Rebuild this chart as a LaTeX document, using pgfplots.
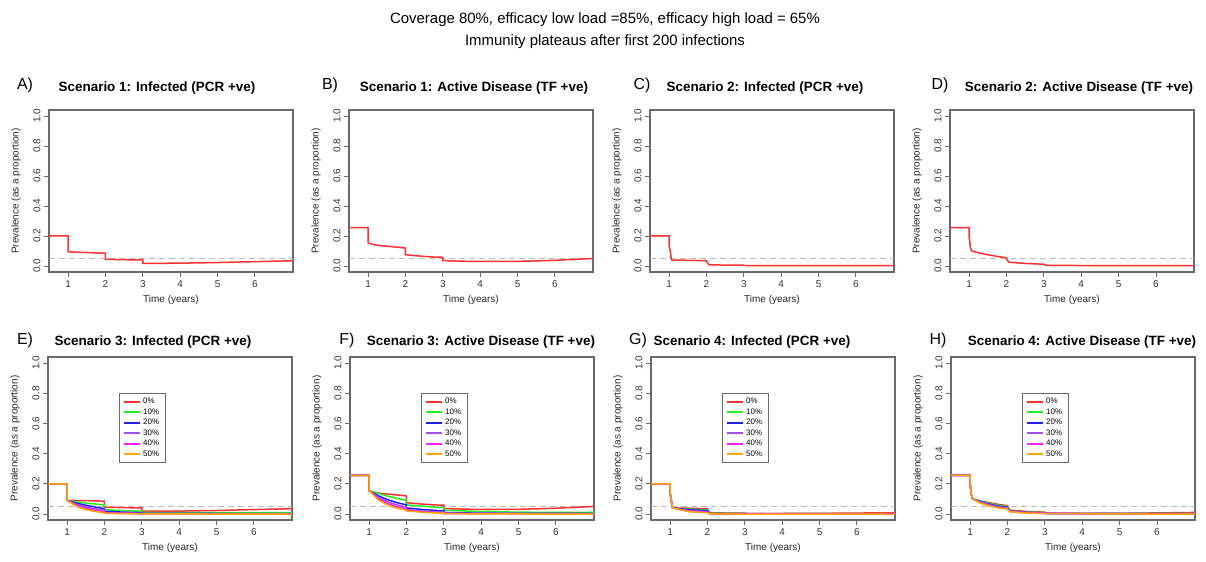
\documentclass[border=0pt]{standalone}
\usepackage{pgfplots}
\pgfplotsset{compat=1.18}
\usepackage{fontspec}
\setmainfont{Liberation Sans}

\definecolor{cRed}{HTML}{FF3030}
\definecolor{cGreen}{HTML}{22EE22}
\definecolor{cBlue}{HTML}{2020F0}
\definecolor{cPurple}{HTML}{A050F0}
\definecolor{cMag}{HTML}{FF20FF}
\definecolor{cOrg}{HTML}{FFA500}
\definecolor{boxc}{HTML}{6A6A6A}
\definecolor{dashc}{HTML}{BBBBBB}

\pgfplotsset{
 panel/.style={
  scale only axis, width=244bp, height=#1,
  xmin=0.49, xmax=7.02, ymin=-0.04, ymax=1.04,
  xtick={1,2,3,4,5,6}, xticklabels={1,2,3,4,5,6},
  ytick={0,0.2,0.4,0.6,0.8,1.0}, yticklabels={0.0,0.2,0.4,0.6,0.8,1.0},
  /pgf/number format/assume math mode=true,
  tick align=outside, major tick length=5bp,
  xtick pos=left, ytick pos=left,
  tick style={boxc, line width=0.8bp},
  axis line style={boxc, line width=1.2bp},
  ticklabel style={font=\fontsize{10}{11}\selectfont, text=black!80},
  yticklabel style={rotate=90, anchor=south},
  xlabel={Time (years)}, ylabel={Prevalence (as a proportion)},
  label style={font=\fontsize{10}{11}\selectfont, text=black!85},
  xlabel style={at={(axis description cs:0.5,-0.173)}, anchor=center},
  ylabel style={at={(axis description cs:-0.135,0.5)}, anchor=center},
  every axis plot/.append style={line width=1.5bp},
  legend style={at={(axis description cs:0.29,0.78)}, anchor=north west,
    font=\fontsize{8}{9}\selectfont, draw=boxc, line width=0.8bp,
    inner xsep=4bp, inner ysep=3bp, row sep=-0.6bp, cells={anchor=west}, fill=white},
  legend image code/.code={\draw[##1, line width=2bp] (0bp,0bp) -- (16bp,0bp);},
  anchor=south west,
 },
 refline/.style={forget plot, dashc, dash pattern=on 6bp off 4bp, line width=1.1bp},
}

\begin{document}
\begin{tikzpicture}
\useasboundingbox (0,0) rectangle (1206bp,562bp);

% main title
\node[font=\fontsize{15}{17}\selectfont] at (605bp,542bp) {Coverage 80\%, efficacy low load =85\%, efficacy high load = 65\%};
\node[font=\fontsize{15}{17}\selectfont] at (605bp,520bp) {Immunity plateaus after first 200 infections};

% panel labels and titles
\tikzset{plab/.style={font=\fontsize{16}{18}\selectfont}, ptit/.style={font=\fontsize{13.5}{15}\selectfont\bfseries}}
\node[plab] at (25bp,477bp) {A)};
\node[ptit] at (157bp,474bp) {Scenario 1: Infected (PCR +ve)};
\node[plab] at (330bp,477bp) {B)};
\node[ptit] at (474bp,474bp) {Scenario 1: Active Disease (TF +ve)};
\node[plab] at (642bp,477bp) {C)};
\node[ptit] at (765bp,474bp) {Scenario 2: Infected (PCR +ve)};
\node[plab] at (940bp,477bp) {D)};
\node[ptit] at (1079bp,474bp) {Scenario 2: Active Disease (TF +ve)};
\node[plab] at (25bp,222bp) {E)};
\node[ptit] at (153bp,220bp) {Scenario 3: Infected (PCR +ve)};
\node[plab] at (347bp,222bp) {F)};
\node[ptit] at (481bp,220bp) {Scenario 3: Active Disease (TF +ve)};
\node[plab] at (638bp,222bp) {G)};
\node[ptit] at (752bp,220bp) {Scenario 4: Infected (PCR +ve)};
\node[plab] at (938bp,222bp) {H)};
\node[ptit] at (1082bp,220bp) {Scenario 4: Active Disease (TF +ve)};

% ---------------- A
\begin{axis}[panel=162bp, at={(49bp,290bp)}]
\addplot[refline] coordinates {(0.49,0.05)(7.02,0.05)};
\addplot[cRed] coordinates {(0.49,0.2)(1,0.2)(1,0.095)(1.25,0.092)(1.5,0.09)(1.75,0.087)(2,0.085)(2,0.045)(2.5,0.042)(3,0.04)(3,0.018)(3.5,0.018)(4,0.019)(4.5,0.021)(5,0.023)(5.5,0.026)(6,0.029)(6.5,0.032)(7.02,0.035)};
\end{axis}

% ---------------- B
\begin{axis}[panel=162bp, at={(349bp,290bp)}]
\addplot[refline] coordinates {(0.49,0.05)(7.02,0.05)};
\addplot[cRed] coordinates {(0.49,0.255)(1,0.255)(1,0.155)(1.1,0.145)(1.25,0.138)(1.5,0.132)(1.75,0.126)(2,0.12)(2,0.075)(2.25,0.069)(2.5,0.064)(2.75,0.06)(3,0.058)(3,0.036)(3.5,0.032)(4,0.03)(4.5,0.03)(5,0.031)(5.5,0.034)(6,0.038)(6.5,0.044)(7.02,0.05)};
\end{axis}

% ---------------- C
\begin{axis}[panel=162bp, at={(650bp,290bp)}]
\addplot[refline] coordinates {(0.49,0.05)(7.02,0.05)};
\addplot[cRed] coordinates {(0.49,0.2)(1,0.2)(1,0.14)(1.03,0.1)(1.04,0.095)(1.05,0.06)(1.07,0.04)(1.5,0.038)(2,0.035)(2.02,0.025)(2.07,0.008)(2.5,0.006)(3,0.005)(3.05,0.002)(7.02,0.002)};
\end{axis}

% ---------------- D
\begin{axis}[panel=162bp, at={(950bp,290bp)}]
\addplot[refline] coordinates {(0.49,0.05)(7.02,0.05)};
\addplot[cRed] coordinates {(0.49,0.255)(1,0.255)(1,0.2)(1.02,0.16)(1.03,0.13)(1.07,0.1)(1.25,0.088)(1.5,0.075)(1.75,0.064)(2,0.055)(2.02,0.04)(2.07,0.025)(2.5,0.017)(3,0.012)(3.05,0.005)(4,0.003)(7.02,0.003)};
\end{axis}

% ---------------- E
\begin{axis}[panel=163bp, at={(48bp,42bp)}]
\addplot[refline] coordinates {(0.49,0.05)(7.02,0.05)};
\addplot[cRed] coordinates {(0.49,0.2)(1,0.2)(1,0.09)(1.25,0.089)(1.5,0.088)(1.75,0.087)(2,0.085)(2,0.045)(2.5,0.042)(3,0.04)(3,0.018)(3.5,0.018)(4,0.019)(4.5,0.021)(5,0.023)(5.5,0.026)(6,0.029)(6.5,0.032)(7.02,0.035)};
\addlegendentry{0\%}
\addplot[cGreen] coordinates {(0.49,0.2)(1,0.2)(1,0.09)(1.25,0.08)(1.5,0.072)(1.75,0.066)(2,0.06)(2,0.028)(2.5,0.022)(3,0.018)(3,0.01)(4,0.009)(5,0.009)(6,0.009)(7.02,0.009)};
\addlegendentry{10\%}
\addplot[cBlue] coordinates {(0.49,0.2)(1,0.2)(1,0.09)(1.25,0.072)(1.5,0.058)(1.75,0.046)(2,0.035)(2,0.018)(2.5,0.012)(3,0.009)(3,0.004)(7.02,0.002)};
\addlegendentry{20\%}
\addplot[cPurple] coordinates {(0.49,0.2)(1,0.2)(1,0.09)(1.25,0.065)(1.5,0.047)(1.75,0.034)(2,0.025)(2,0.01)(2.5,0.006)(3,0.004)(3,0.002)(7.02,0.001)};
\addlegendentry{30\%}
\addplot[cMag] coordinates {(0.49,0.2)(1,0.2)(1,0.09)(1.25,0.058)(1.5,0.038)(1.75,0.025)(2,0.016)(2,0.006)(3,0.002)(7.02,0)};
\addlegendentry{40\%}
\addplot[cOrg] coordinates {(0.49,0.2)(1,0.2)(1,0.09)(1.25,0.05)(1.5,0.028)(1.75,0.016)(2,0.009)(2,0.004)(3,0.001)(7.02,-0.002)};
\addlegendentry{50\%}
\end{axis}

% ---------------- F
\begin{axis}[panel=163bp, at={(350bp,42bp)}]
\addplot[refline] coordinates {(0.49,0.05)(7.02,0.05)};
\addplot[cRed] coordinates {(0.49,0.255)(1,0.255)(1,0.155)(1.1,0.145)(1.25,0.138)(1.5,0.132)(1.75,0.126)(2,0.12)(2,0.075)(2.25,0.069)(2.5,0.064)(2.75,0.06)(3,0.058)(3,0.036)(3.5,0.032)(4,0.03)(4.5,0.03)(5,0.031)(5.5,0.034)(6,0.038)(6.5,0.044)(7.02,0.05)};
\addlegendentry{0\%}
\addplot[cGreen] coordinates {(0.49,0.255)(1,0.255)(1,0.155)(1.25,0.135)(1.5,0.118)(1.75,0.103)(2,0.09)(2,0.06)(2.5,0.05)(3,0.042)(3,0.025)(4,0.016)(5,0.012)(6,0.01)(7.02,0.01)};
\addlegendentry{10\%}
\addplot[cBlue] coordinates {(0.49,0.255)(1,0.255)(1,0.155)(1.25,0.12)(1.5,0.094)(1.75,0.075)(2,0.06)(2,0.04)(2.5,0.028)(3,0.02)(3,0.01)(4,0.005)(7.02,0.003)};
\addlegendentry{20\%}
\addplot[cPurple] coordinates {(0.49,0.255)(1,0.255)(1,0.155)(1.25,0.11)(1.5,0.08)(1.75,0.06)(2,0.045)(2,0.03)(2.5,0.018)(3,0.012)(3,0.005)(7.02,0.001)};
\addlegendentry{30\%}
\addplot[cMag] coordinates {(0.49,0.255)(1,0.255)(1,0.155)(1.25,0.1)(1.5,0.068)(1.75,0.048)(2,0.035)(2,0.025)(2.5,0.013)(3,0.008)(3,0.003)(7.02,0)};
\addlegendentry{40\%}
\addplot[cOrg] coordinates {(0.49,0.255)(1,0.255)(1,0.155)(1.25,0.092)(1.5,0.058)(1.75,0.038)(2,0.025)(2,0.02)(2.5,0.01)(3,0.005)(3,0.002)(7.02,-0.002)};
\addlegendentry{50\%}
\end{axis}

% ---------------- G
\begin{axis}[panel=163bp, at={(651bp,42bp)}]
\addplot[refline] coordinates {(0.49,0.05)(7.02,0.05)};
\addplot[cRed] coordinates {(0.49,0.2)(1,0.2)(1,0.14)(1.03,0.095)(1.05,0.06)(1.07,0.04)(1.5,0.038)(2,0.035)(2.02,0.02)(2.07,0.008)(2.5,0.006)(3,0.005)(3.05,0.003)(4,0.003)(5,0.004)(6,0.006)(7.02,0.008)};
\addlegendentry{0\%}
\addplot[cGreen] coordinates {(0.49,0.2)(1,0.2)(1,0.14)(1.03,0.095)(1.05,0.06)(1.07,0.04)(1.5,0.032)(2,0.027)(2.07,0.005)(3,0.003)(3.05,0.001)(7.02,0.003)};
\addlegendentry{10\%}
\addplot[cBlue] coordinates {(0.49,0.2)(1,0.2)(1,0.14)(1.03,0.095)(1.05,0.06)(1.07,0.04)(1.5,0.028)(2,0.022)(2.07,0.003)(3,0.002)(7.02,0.001)};
\addlegendentry{20\%}
\addplot[cPurple] coordinates {(0.49,0.2)(1,0.2)(1,0.14)(1.03,0.095)(1.05,0.06)(1.07,0.04)(1.5,0.022)(2,0.016)(2.07,0.002)(7.02,0)};
\addlegendentry{30\%}
\addplot[cMag] coordinates {(0.49,0.2)(1,0.2)(1,0.14)(1.03,0.095)(1.05,0.06)(1.07,0.04)(1.5,0.018)(2,0.012)(2.07,0.001)(7.02,0)};
\addlegendentry{40\%}
\addplot[cOrg] coordinates {(0.49,0.2)(1,0.2)(1,0.14)(1.03,0.095)(1.05,0.06)(1.07,0.04)(1.5,0.015)(2,0.008)(2.07,0)(7.02,-0.002)};
\addlegendentry{50\%}
\end{axis}

% ---------------- H
\begin{axis}[panel=163bp, at={(951bp,42bp)}]
\addplot[refline] coordinates {(0.49,0.05)(7.02,0.05)};
\addplot[cRed] coordinates {(0.49,0.255)(1,0.255)(1,0.2)(1.02,0.16)(1.03,0.13)(1.07,0.1)(1.25,0.088)(1.5,0.075)(1.75,0.064)(2,0.055)(2.02,0.04)(2.07,0.025)(2.5,0.017)(3,0.012)(3.05,0.005)(4,0.003)(5,0.004)(6,0.007)(7.02,0.01)};
\addlegendentry{0\%}
\addplot[cGreen] coordinates {(0.49,0.255)(1,0.255)(1,0.2)(1.02,0.16)(1.03,0.13)(1.07,0.1)(1.25,0.086)(1.5,0.071)(1.75,0.058)(2,0.05)(2.07,0.022)(2.5,0.013)(3,0.009)(3.05,0.004)(7.02,0.004)};
\addlegendentry{10\%}
\addplot[cBlue] coordinates {(0.49,0.255)(1,0.255)(1,0.2)(1.02,0.16)(1.03,0.13)(1.07,0.1)(1.25,0.083)(1.5,0.066)(1.75,0.052)(2,0.044)(2.07,0.02)(2.5,0.011)(3,0.007)(3.05,0.003)(7.02,0.002)};
\addlegendentry{20\%}
\addplot[cPurple] coordinates {(0.49,0.255)(1,0.255)(1,0.2)(1.02,0.16)(1.03,0.13)(1.07,0.1)(1.25,0.08)(1.5,0.062)(1.75,0.048)(2,0.04)(2.07,0.018)(2.5,0.009)(3,0.005)(7.02,0.001)};
\addlegendentry{30\%}
\addplot[cMag] coordinates {(0.49,0.255)(1,0.255)(1,0.2)(1.02,0.16)(1.03,0.13)(1.07,0.1)(1.25,0.077)(1.5,0.058)(1.75,0.044)(2,0.037)(2.07,0.016)(2.5,0.008)(3,0.004)(7.02,0)};
\addlegendentry{40\%}
\addplot[cOrg] coordinates {(0.49,0.255)(1,0.255)(1,0.2)(1.02,0.16)(1.03,0.13)(1.07,0.1)(1.25,0.074)(1.5,0.054)(1.75,0.04)(2,0.033)(2.07,0.014)(2.5,0.006)(3,0.003)(7.02,-0.002)};
\addlegendentry{50\%}
\end{axis}
\end{tikzpicture}
\end{document}
